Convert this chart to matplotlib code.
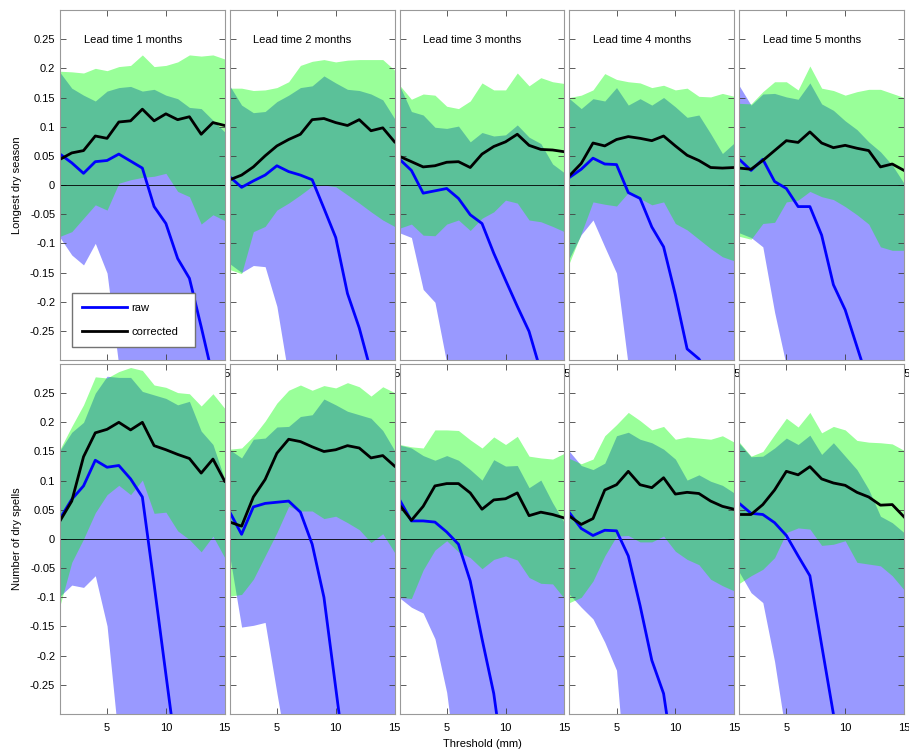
import numpy as np
import matplotlib
matplotlib.use('Agg')
import matplotlib.pyplot as plt
from matplotlib.ticker import FuncFormatter

plt.rcParams['font.family'] = ['Liberation Sans', 'DejaVu Sans']
plt.rcParams['font.size'] = 8
plt.rcParams['axes.unicode_minus'] = False

# порог осадков, мм
threshold = [1, 2, 3, 4, 5, 6, 7, 8, 9, 10, 11, 12, 13, 14, 15]
lead_times = [1, 2, 3, 4, 5]
yticks = [-0.25, -0.2, -0.15, -0.1, -0.05, 0, 0.05, 0.1, 0.15, 0.2, 0.25]

# --- Longest dry season (по заблаговременности 1..5 мес) ---
season_raw = [
    [0.053, 0.038, 0.020, 0.040, 0.042, 0.053, 0.041, 0.029, -0.037, -0.066, -0.126, -0.160, -0.243, -0.33, -0.42],
    [0.014, -0.004, 0.007, 0.017, 0.033, 0.023, 0.017, 0.009, -0.040, -0.090, -0.186, -0.245, -0.32, -0.40, -0.48],
    [0.044, 0.025, -0.014, -0.010, -0.006, -0.023, -0.051, -0.066, -0.117, -0.163, -0.208, -0.251, -0.32, -0.40, -0.48],
    [0.013, 0.027, 0.046, 0.036, 0.035, -0.013, -0.023, -0.072, -0.106, -0.188, -0.281, -0.298, -0.33, -0.37, -0.41],
    [0.044, 0.025, 0.044, 0.006, -0.006, -0.037, -0.037, -0.086, -0.171, -0.214, -0.277, -0.34, -0.41, -0.48, -0.55],
]
season_corr = [
    [0.044, 0.055, 0.059, 0.084, 0.080, 0.108, 0.110, 0.130, 0.110, 0.122, 0.112, 0.117, 0.087, 0.107, 0.102],
    [0.009, 0.017, 0.031, 0.050, 0.067, 0.078, 0.087, 0.112, 0.114, 0.107, 0.102, 0.112, 0.093, 0.098, 0.074],
    [0.049, 0.040, 0.031, 0.033, 0.039, 0.040, 0.030, 0.053, 0.066, 0.074, 0.087, 0.068, 0.061, 0.060, 0.057],
    [0.016, 0.037, 0.072, 0.067, 0.078, 0.083, 0.080, 0.076, 0.084, 0.067, 0.051, 0.042, 0.030, 0.029, 0.030],
    [0.029, 0.027, 0.042, 0.059, 0.076, 0.073, 0.091, 0.072, 0.064, 0.068, 0.063, 0.059, 0.031, 0.036, 0.025],
]
season_raw_hi = [
    [0.193, 0.166, 0.154, 0.144, 0.161, 0.167, 0.169, 0.161, 0.164, 0.154, 0.148, 0.133, 0.131, 0.111, 0.091],
    [0.170, 0.137, 0.124, 0.126, 0.143, 0.154, 0.167, 0.170, 0.187, 0.175, 0.164, 0.162, 0.156, 0.146, 0.114],
    [0.170, 0.126, 0.120, 0.099, 0.097, 0.101, 0.074, 0.090, 0.084, 0.086, 0.103, 0.082, 0.071, 0.036, 0.021],
    [0.148, 0.131, 0.148, 0.144, 0.167, 0.137, 0.148, 0.137, 0.150, 0.134, 0.116, 0.120, 0.088, 0.054, 0.072],
    [0.170, 0.137, 0.156, 0.157, 0.151, 0.147, 0.175, 0.139, 0.128, 0.110, 0.095, 0.074, 0.057, 0.034, 0.003],
]
season_raw_lo = [
    [-0.090, -0.120, -0.137, -0.100, -0.151, -0.31, -0.40, -0.42, -0.45, -0.48, -0.50, -0.52, -0.55, -0.57, -0.60],
    [-0.135, -0.150, -0.138, -0.140, -0.208, -0.33, -0.40, -0.42, -0.45, -0.48, -0.50, -0.52, -0.55, -0.57, -0.60],
    [-0.082, -0.090, -0.179, -0.201, -0.305, -0.36, -0.42, -0.44, -0.46, -0.48, -0.50, -0.52, -0.55, -0.57, -0.60],
    [-0.125, -0.085, -0.060, -0.106, -0.151, -0.31, -0.40, -0.42, -0.45, -0.48, -0.50, -0.52, -0.55, -0.57, -0.60],
    [-0.082, -0.090, -0.106, -0.218, -0.31, -0.40, -0.42, -0.44, -0.46, -0.48, -0.50, -0.52, -0.55, -0.57, -0.60],
]
season_corr_hi = [
    [0.195, 0.194, 0.192, 0.200, 0.196, 0.203, 0.205, 0.223, 0.203, 0.205, 0.211, 0.223, 0.221, 0.223, 0.216],
    [0.166, 0.166, 0.162, 0.163, 0.167, 0.177, 0.205, 0.212, 0.215, 0.211, 0.214, 0.215, 0.215, 0.215, 0.197],
    [0.171, 0.147, 0.156, 0.154, 0.135, 0.131, 0.144, 0.175, 0.163, 0.163, 0.192, 0.170, 0.184, 0.177, 0.174],
    [0.150, 0.154, 0.163, 0.191, 0.181, 0.177, 0.175, 0.167, 0.171, 0.163, 0.166, 0.152, 0.151, 0.157, 0.152],
    [0.140, 0.139, 0.160, 0.177, 0.177, 0.163, 0.204, 0.166, 0.162, 0.154, 0.160, 0.164, 0.164, 0.157, 0.150],
]
season_corr_lo = [
    [-0.088, -0.080, -0.057, -0.034, -0.043, 0.003, 0.009, 0.013, 0.015, 0.020, -0.011, -0.020, -0.067, -0.051, -0.061],
    [-0.145, -0.152, -0.080, -0.071, -0.043, -0.031, -0.017, -0.002, 0.000, -0.003, -0.017, -0.031, -0.046, -0.060, -0.071],
    [-0.074, -0.067, -0.086, -0.087, -0.067, -0.060, -0.078, -0.057, -0.046, -0.026, -0.031, -0.060, -0.063, -0.071, -0.080],
    [-0.133, -0.083, -0.029, -0.033, -0.036, -0.013, -0.023, -0.034, -0.029, -0.066, -0.077, -0.093, -0.109, -0.123, -0.130],
    [-0.088, -0.093, -0.066, -0.064, -0.029, -0.026, -0.011, -0.020, -0.025, -0.037, -0.051, -0.067, -0.106, -0.112, -0.112],
]

# --- Number of dry spells ---
spells_raw = [
    [0.035, 0.068, 0.091, 0.135, 0.123, 0.126, 0.103, 0.072, -0.078, -0.232, -0.385, -0.54, -0.69, -0.84, -1.0],
    [0.046, 0.008, 0.055, 0.061, 0.063, 0.065, 0.046, -0.009, -0.100, -0.255, -0.41, -0.56, -0.71, -0.86, -1.0],
    [0.067, 0.031, 0.031, 0.029, 0.012, -0.009, -0.072, -0.171, -0.265, -0.41, -0.51, -0.61, -0.71, -0.81, -0.91],
    [0.045, 0.018, 0.006, 0.015, 0.014, -0.029, -0.114, -0.208, -0.265, -0.40, -0.50, -0.60, -0.70, -0.80, -0.90],
    [0.061, 0.044, 0.042, 0.028, 0.006, -0.029, -0.063, -0.182, -0.300, -0.42, -0.54, -0.66, -0.78, -0.90, -1.0],
]
spells_corr = [
    [0.031, 0.065, 0.141, 0.182, 0.188, 0.200, 0.187, 0.200, 0.160, 0.153, 0.145, 0.138, 0.113, 0.137, 0.099],
    [0.029, 0.022, 0.072, 0.102, 0.147, 0.171, 0.167, 0.158, 0.150, 0.153, 0.160, 0.156, 0.139, 0.143, 0.125],
    [0.058, 0.032, 0.056, 0.091, 0.095, 0.095, 0.079, 0.051, 0.067, 0.069, 0.079, 0.040, 0.046, 0.042, 0.036],
    [0.039, 0.025, 0.035, 0.084, 0.093, 0.116, 0.093, 0.088, 0.105, 0.077, 0.080, 0.078, 0.065, 0.056, 0.051],
    [0.042, 0.042, 0.059, 0.084, 0.116, 0.110, 0.124, 0.103, 0.096, 0.092, 0.080, 0.072, 0.058, 0.059, 0.038],
]
spells_raw_hi = [
    [0.152, 0.183, 0.200, 0.250, 0.279, 0.277, 0.277, 0.253, 0.247, 0.241, 0.230, 0.236, 0.185, 0.162, 0.102],
    [0.153, 0.139, 0.171, 0.173, 0.192, 0.193, 0.210, 0.213, 0.240, 0.230, 0.219, 0.213, 0.207, 0.186, 0.152],
    [0.161, 0.156, 0.143, 0.135, 0.143, 0.135, 0.119, 0.101, 0.136, 0.125, 0.126, 0.088, 0.101, 0.062, 0.028],
    [0.150, 0.126, 0.119, 0.130, 0.177, 0.183, 0.171, 0.165, 0.154, 0.137, 0.101, 0.110, 0.099, 0.092, 0.079],
    [0.164, 0.141, 0.142, 0.156, 0.173, 0.162, 0.178, 0.145, 0.165, 0.142, 0.119, 0.085, 0.039, 0.028, 0.011],
]
spells_raw_lo = [
    [-0.098, -0.079, -0.083, -0.063, -0.149, -0.35, -0.45, -0.47, -0.49, -0.51, -0.53, -0.55, -0.57, -0.59, -0.61],
    [-0.030, -0.151, -0.148, -0.143, -0.264, -0.38, -0.45, -0.47, -0.49, -0.51, -0.53, -0.55, -0.57, -0.59, -0.61],
    [-0.101, -0.117, -0.127, -0.171, -0.263, -0.42, -0.45, -0.47, -0.49, -0.51, -0.53, -0.55, -0.57, -0.59, -0.61],
    [-0.095, -0.117, -0.137, -0.177, -0.225, -0.47, -0.49, -0.50, -0.51, -0.52, -0.53, -0.55, -0.57, -0.59, -0.61],
    [-0.057, -0.092, -0.109, -0.210, -0.340, -0.45, -0.47, -0.48, -0.49, -0.51, -0.53, -0.55, -0.57, -0.59, -0.61],
]
spells_corr_hi = [
    [0.154, 0.193, 0.230, 0.278, 0.276, 0.287, 0.294, 0.289, 0.264, 0.260, 0.251, 0.249, 0.228, 0.249, 0.224],
    [0.154, 0.156, 0.176, 0.202, 0.233, 0.255, 0.264, 0.255, 0.263, 0.259, 0.268, 0.261, 0.245, 0.261, 0.251],
    [0.162, 0.158, 0.156, 0.187, 0.187, 0.186, 0.170, 0.156, 0.175, 0.162, 0.176, 0.142, 0.139, 0.137, 0.147],
    [0.138, 0.129, 0.137, 0.177, 0.196, 0.217, 0.203, 0.187, 0.193, 0.171, 0.175, 0.173, 0.171, 0.177, 0.166],
    [0.166, 0.142, 0.150, 0.179, 0.207, 0.192, 0.217, 0.182, 0.193, 0.187, 0.169, 0.166, 0.165, 0.163, 0.152],
]
spells_corr_lo = [
    [-0.114, -0.040, 0.000, 0.045, 0.076, 0.092, 0.076, 0.101, 0.044, 0.046, 0.014, -0.001, -0.022, 0.005, -0.032],
    [-0.098, -0.095, -0.069, -0.029, 0.011, 0.056, 0.048, 0.048, 0.035, 0.039, 0.028, 0.016, -0.006, 0.009, -0.023],
    [-0.100, -0.102, -0.053, -0.019, -0.003, -0.022, -0.032, -0.051, -0.035, -0.029, -0.036, -0.066, -0.076, -0.077, -0.102],
    [-0.109, -0.100, -0.072, -0.029, 0.005, 0.006, -0.005, -0.005, 0.005, -0.021, -0.035, -0.044, -0.069, -0.080, -0.089],
    [-0.076, -0.063, -0.052, -0.032, 0.011, 0.019, 0.017, -0.011, -0.009, -0.003, -0.040, -0.043, -0.046, -0.063, -0.087],
]

rows = [
    ('Longest dry season', season_raw, season_corr, season_raw_lo, season_raw_hi, season_corr_lo, season_corr_hi),
    ('Number of dry spells', spells_raw, spells_corr, spells_raw_lo, spells_raw_hi, spells_corr_lo, spells_corr_hi),
]

fig, axes = plt.subplots(2, 5, figsize=(9.09, 7.5), dpi=100)
fig.subplots_adjust(left=60/909., right=904/909., top=1 - 10/750., bottom=1 - 714/750.,
                    wspace=0.031, hspace=0.0114)

fmt = FuncFormatter(lambda v, p: '%g' % round(v, 3))

for r, (name, raw, corr, rlo, rhi, clo, chi) in enumerate(rows):
    for c in range(5):
        ax = axes[r, c]
        ax.fill_between(threshold, rlo[c], rhi[c], color=(0, 0, 1), alpha=0.4, lw=0)
        ax.fill_between(threshold, clo[c], chi[c], color=(0, 1, 0), alpha=0.4, lw=0)
        ax.axhline(0, color='k', lw=0.6)
        l1, = ax.plot(threshold, raw[c], color=(0, 0, 1), lw=2, label='raw')
        l2, = ax.plot(threshold, corr[c], color='k', lw=2, label='corrected')

        ax.set_xlim(1, 15)
        ax.set_ylim(-0.3, 0.3)
        ax.set_xticks([5, 10, 15])
        ax.set_yticks(yticks)
        ax.yaxis.set_major_formatter(fmt)
        ax.tick_params(direction='in', top=True, right=True, length=4, width=0.6,
                       color='0.25', labelsize=8)
        ax.tick_params(axis='x', pad=6.5)
        ax.tick_params(axis='y', pad=3.5)
        for s in ax.spines.values():
            s.set_color('0.6')
            s.set_linewidth(0.8)

        if c > 0:
            ax.tick_params(labelleft=False)
        else:
            ax.set_ylabel(name, fontsize=8)
            ax.yaxis.set_label_coords(-0.232, 0.5)

        if r == 0:
            ax.text(3, 0.248, 'Lead time %d months' % lead_times[c],
                    ha='left', va='center', fontsize=8)
        if r == 0 and c == 0:
            ax.legend(handles=[l1, l2], loc='lower left',
                      bbox_to_anchor=(0.075, 0.038, 0.742, 0.155), mode='expand',
                      borderaxespad=0, fancybox=False, framealpha=1,
                      edgecolor='0.45', handlelength=4, handletextpad=0.4,
                      labelspacing=1.2, borderpad=0.9, fontsize=8)
        if r == 1 and c == 2:
            ax.set_xlabel('Threshold (mm)', fontsize=8)

fig.savefig('out.png', dpi=100)
